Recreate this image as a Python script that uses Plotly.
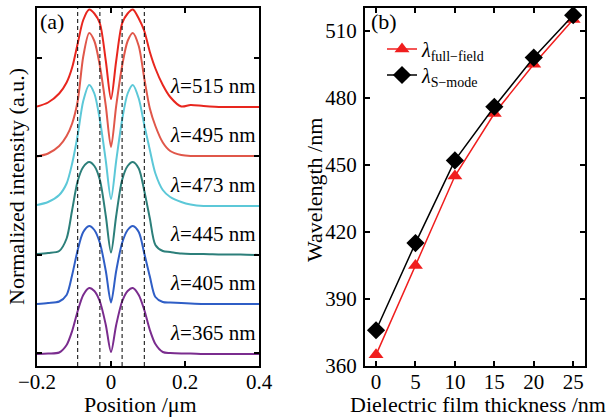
import plotly.graph_objects as go

# ---------------- data: panel (a) ----------------
position = [-0.2, -0.17, -0.14, -0.12, -0.105, -0.09, -0.075, -0.059, -0.045, -0.03, -0.014, 0.0,
            0.014, 0.03, 0.045, 0.059, 0.075, 0.09, 0.105, 0.12, 0.14, 0.16, 0.19, 0.215, 0.25, 0.3, 0.35, 0.4]

wavelength_labels = [515, 495, 473, 445, 405, 365]

intensity_515 = [5.19, 5.27, 5.45, 5.67, 5.97, 6.45, 6.92, 7.13, 7.05, 6.85, 6.1, 5.34,
                 6.1, 6.85, 7.05, 7.13, 6.95, 6.7, 6.28, 5.95, 5.62, 5.38, 5.19, 5.22, 5.2, 5.18, 5.18, 5.18]
intensity_495 = [4.19, 4.25, 4.4, 4.6, 4.85, 5.3, 6.19, 6.66, 6.5, 6.0, 5.2, 4.38,
                 5.2, 6.0, 6.5, 6.66, 6.4, 5.75, 5.15, 4.8, 4.47, 4.3, 4.22, 4.2, 4.2, 4.2, 4.2, 4.2]
intensity_473 = [3.22, 3.28, 3.42, 3.65, 4.05, 4.62, 5.3, 5.62, 5.45, 4.92, 4.1, 3.34,
                 4.1, 4.92, 5.45, 5.62, 5.35, 4.82, 4.32, 3.85, 3.52, 3.38, 3.28, 3.23, 3.2, 3.2, 3.2, 3.2]
intensity_445 = [2.24, 2.26, 2.3, 2.55, 3.12, 3.7, 3.98, 4.08, 4.0, 3.72, 3.0, 2.27,
                 3.0, 3.72, 4.0, 4.08, 3.95, 3.5, 2.95, 2.42, 2.3, 2.28, 2.25, 2.24, 2.24, 2.23, 2.23, 2.22]
intensity_405 = [1.24, 1.26, 1.29, 1.42, 1.82, 2.32, 2.68, 2.8, 2.72, 2.46, 1.9, 1.27,
                 1.9, 2.46, 2.72, 2.8, 2.68, 2.25, 1.79, 1.38, 1.28, 1.27, 1.26, 1.25, 1.24, 1.24, 1.24, 1.24]
intensity_365 = [0.24, 0.25, 0.27, 0.42, 0.7, 1.1, 1.42, 1.56, 1.5, 1.29, 0.82, 0.28,
                 0.82, 1.29, 1.5, 1.56, 1.42, 1.12, 0.72, 0.44, 0.28, 0.26, 0.25, 0.25, 0.24, 0.24, 0.24, 0.24]

interfaces = [-0.09, -0.03, 0.03, 0.09]

# ---------------- data: panel (b) ----------------
thickness = [0, 5, 10, 15, 20, 25]
lambda_full_field = [365, 405, 445, 473, 495, 515]
lambda_s_mode = [376, 415, 452, 476, 498, 517]

# ---------------- styling ----------------
FONT = "Liberation Serif"
curve_colors = ["#E8261E", "#E0574A", "#5CC8D8", "#2C7F7A", "#2F5EC6", "#7A2C8E"]
curves = [intensity_515, intensity_495, intensity_473, intensity_445, intensity_405, intensity_365]

fig = go.Figure()

for wl, ys, col in zip(wavelength_labels, curves, curve_colors):
    fig.add_trace(go.Scatter(x=position, y=ys, mode="lines", xaxis="x", yaxis="y",
                             line=dict(color=col, width=2, shape="spline", smoothing=0.8),
                             showlegend=False, hoverinfo="skip"))
    fig.add_annotation(x=0.397, y=ys[-1] + 0.42, xref="x", yref="y", xanchor="right", yanchor="middle",
                       text=f"<i>λ</i>={wl} nm", showarrow=False,
                       font=dict(family=FONT, size=21, color="black"))

for xv in interfaces:
    fig.add_shape(type="line", x0=xv, x1=xv, y0=0, y1=1, xref="x", yref="y domain",
                  line=dict(color="black", width=1, dash="4px,3px"))

fig.add_trace(go.Scatter(x=thickness, y=lambda_full_field, mode="lines+markers", xaxis="x2", yaxis="y2",
                         name="<i>λ</i><sub>full−field</sub>", legend="legend",
                         line=dict(color="#F01E1E", width=1.5),
                         marker=dict(symbol="triangle-up", size=13, color="#F01E1E")))
fig.add_trace(go.Scatter(x=thickness, y=lambda_s_mode, mode="lines+markers", xaxis="x2", yaxis="y2",
                         name="<i>λ</i><sub>S−mode</sub>", legend="legend2",
                         line=dict(color="black", width=1.5),
                         marker=dict(symbol="diamond", size=14, color="black")))

W, H = 613, 420
ax_common = dict(showline=True, linewidth=2, linecolor="black", mirror="ticks", ticks="inside",
                 ticklen=5, tickwidth=1.5, tickcolor="black", showgrid=False, zeroline=False,
                 automargin=False, tickfont=dict(family=FONT, size=21, color="black"))

legend_common = dict(xanchor="left", yanchor="middle", bgcolor="rgba(255,255,255,0)",
                     font=dict(family=FONT, size=20, color="black"), itemwidth=30)

fig.update_layout(
    width=W, height=H,
    margin=dict(l=0, r=0, t=0, b=0, autoexpand=False),
    paper_bgcolor="white", plot_bgcolor="white",
    xaxis=dict(domain=[37 / W, 259 / W], range=[-0.2, 0.4], tickvals=[-0.2, 0, 0.2, 0.4],
               ticktext=["−0.2", "0", "0.2", "0.4"], anchor="y", ticklabelstandoff=-4, **ax_common),
    yaxis=dict(domain=[(H - 366) / H, (H - 8) / H], range=[0, 7.16], tickvals=[0.26, 2.23, 4.2, 6.17],
               showticklabels=False, anchor="x", **ax_common),
    xaxis2=dict(domain=[365 / W, 585 / W], range=[-1.4, 26.5], tickvals=[0, 5, 10, 15, 20, 25],
                anchor="y2", ticklabelstandoff=-4, **ax_common),
    yaxis2=dict(domain=[(H - 366) / H, (H - 8) / H], range=[360, 520.2], tickvals=[360, 390, 420, 450, 480, 510],
                anchor="x2", ticklabelstandoff=2, **ax_common),
    legend=dict(x=382 / W, y=1 - 49 / H, **legend_common),
    legend2=dict(x=382 / W, y=1 - 75 / H, **legend_common),
    showlegend=True,
)

# axis titles and panel labels
TITLE = dict(family=FONT, size=22, color="black")
fig.add_annotation(x=140 / W, y=1 - 404 / H, xref="paper", yref="paper", text="Position /μm",
                   showarrow=False, font=TITLE, xanchor="center", yanchor="middle")
fig.add_annotation(x=478 / W, y=1 - 404 / H, xref="paper", yref="paper", text="Dielectric film thickness /nm",
                   showarrow=False, font=TITLE, xanchor="center", yanchor="middle")
fig.add_annotation(x=16 / W, y=1 - 187 / H, xref="paper", yref="paper", text="Normalized intensity (a.u.)",
                   textangle=-90, showarrow=False, font=TITLE, xanchor="center", yanchor="middle")
fig.add_annotation(x=315 / W, y=1 - 190 / H, xref="paper", yref="paper", text="Wavelength /nm",
                   textangle=-90, showarrow=False, font=TITLE, xanchor="center", yanchor="middle")
fig.add_annotation(x=52 / W, y=1 - 21 / H, xref="paper", yref="paper", text="(a)",
                   showarrow=False, font=TITLE, xanchor="center", yanchor="middle")
fig.add_annotation(x=384 / W, y=1 - 21 / H, xref="paper", yref="paper", text="(b)",
                   showarrow=False, font=TITLE, xanchor="center", yanchor="middle")

fig.write_html("out.html", config={"displayModeBar": False},
               post_script="document.body.style.margin='0';document.body.style.overflow='hidden';")
